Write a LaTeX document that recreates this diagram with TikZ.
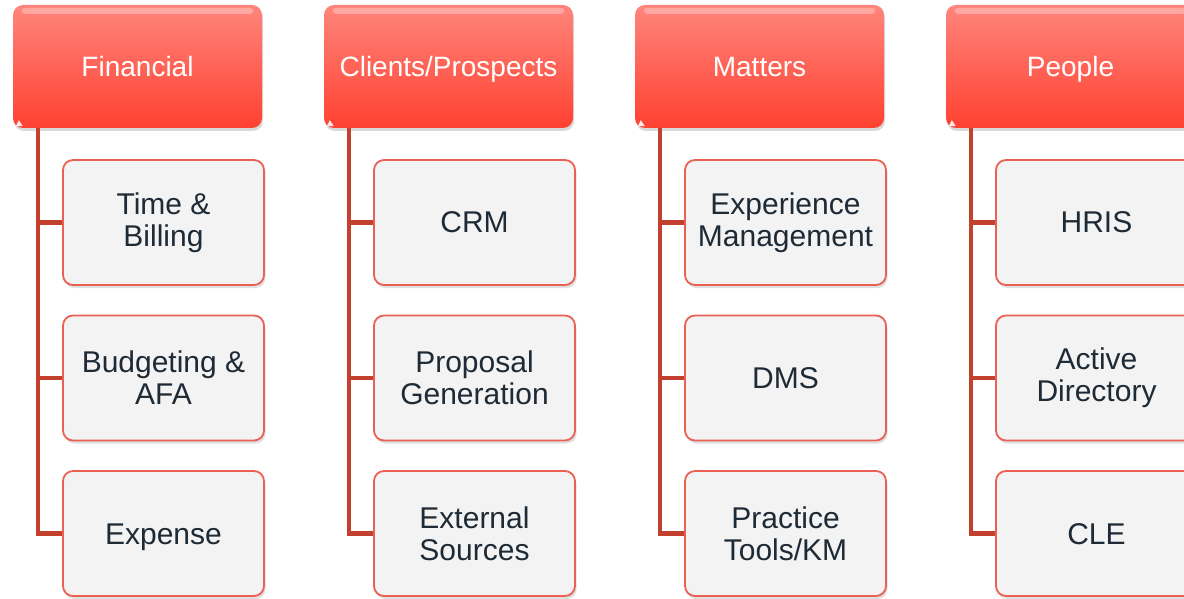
\documentclass[tikz,border=0pt]{standalone}
\usepackage{fontspec}
\setmainfont{Liberation Sans}
\usetikzlibrary{shadows}
\definecolor{hdrtop}{HTML}{FF857C}
\definecolor{hdrmid}{HTML}{FF6B5F}
\definecolor{hdrbot}{HTML}{FF4131}
\definecolor{boxline}{HTML}{EA6154}
\definecolor{boxfill}{HTML}{F3F3F3}
\definecolor{connred}{HTML}{C3402F}
\definecolor{ink}{HTML}{1E2A35}
\tikzset{
  header/.style={rounded corners=10pt, minimum width=249pt, minimum height=123pt,
    inner sep=0pt, top color=hdrtop, middle color=hdrmid, bottom color=hdrbot,
    text=white, font=\fontsize{28}{32}\selectfont,
    text height=20pt, text depth=0pt,
    drop shadow={shadow xshift=1pt, shadow yshift=-3pt, opacity=0.3}},
  item/.style={rounded corners=10pt, minimum width=201pt, minimum height=125pt,
    inner sep=0pt, draw=boxline, line width=1.8pt, fill=boxfill, text=ink,
    align=center, font=\fontsize{30}{32}\selectfont,
    drop shadow={shadow xshift=1.5pt, shadow yshift=-3pt, opacity=0.25}},
  oneline/.style={text height=21pt, text depth=0pt},
  conn/.style={draw=connred, line width=4.5pt},
  gloss/.style={fill=white, opacity=0.3, rounded corners=3pt},
}
\begin{document}
\begin{tikzpicture}[x=1pt, y=-1pt]
\useasboundingbox (0,0) rectangle (1184,599);

% column headers
\node[header] (h1) at (137.5,66.5)  {Financial};
\node[header] (h2) at (448.5,66.5)  {Clients/Prospects};
\node[header] (h3) at (759.5,66.5)  {Matters};
\node[header] (h4) at (1070.5,66.5) {People};

% glossy highlight along the top edge of each header
\foreach \h in {h1,h2,h3,h4}{
  \fill[gloss] ([xshift=9pt,yshift=-3pt]\h.north west) rectangle ([xshift=-9pt,yshift=-9pt]\h.north east);
  \fill[white, opacity=0.9] ([xshift=3pt,yshift=2pt]\h.south west) -- ++(7,0) -- ++(-4,-6) -- cycle;
}

% items under each header
\node[item] (c11) at (163.5,222.5) {Time \&\\Billing};
\node[item] (c12) at (163.5,378)   {Budgeting \&\\AFA};
\node[item, oneline] (c13) at (163.5,533.5) {Expense};

\node[item, oneline] (c21) at (474.5,222.5) {CRM};
\node[item] (c22) at (474.5,378)   {Proposal\\Generation};
\node[item] (c23) at (474.5,533.5) {External\\Sources};

\node[item] (c31) at (785.5,222.5) {Experience\\Management};
\node[item, oneline] (c32) at (785.5,378)   {DMS};
\node[item] (c33) at (785.5,533.5) {Practice\\Tools/KM};

\node[item, oneline] (c41) at (1096.5,222.5) {HRIS};
\node[item] (c42) at (1096.5,378)   {Active\\Directory};
\node[item, oneline] (c43) at (1096.5,533.5) {CLE};

% connectors: trunk down the left side of each header, branch to each item
\foreach \i in {1,2,3,4}{
  \foreach \j in {1,2,3}{
    \draw[conn] ([xshift=25pt]h\i.south west) |- (c\i\j.west);
  }
}
\end{tikzpicture}
\end{document}
